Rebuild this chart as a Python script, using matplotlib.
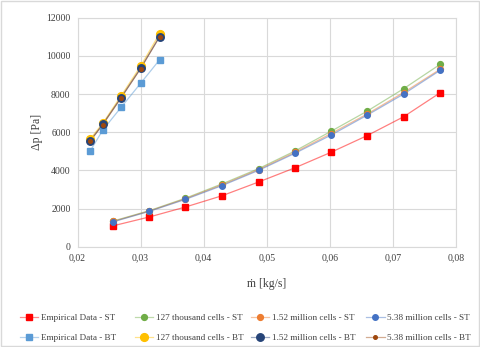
import matplotlib

matplotlib.use("Agg")

import matplotlib.pyplot as plt
from matplotlib.lines import Line2D
from matplotlib.patches import Rectangle
from matplotlib.ticker import FuncFormatter

plt.rcParams["font.family"] = ["Liberation Serif", "DejaVu Serif"]

# ---------------------------------------------------------------------------
# Data
# ---------------------------------------------------------------------------
mdot_st = [0.0257, 0.0314, 0.0371, 0.0429, 0.0487, 0.0545, 0.0602, 0.0659, 0.0717, 0.0775]
emp_st = [1100, 1560, 2080, 2670, 3390, 4140, 4950, 5820, 6810, 8070]
k127_st = [1350, 1890, 2540, 3290, 4090, 5020, 6050, 7100, 8280, 9560]
m152_st = [1330, 1870, 2510, 3240, 4040, 4950, 5930, 6950, 8080, 9300]
m538_st = [1310, 1855, 2480, 3200, 4000, 4900, 5850, 6890, 8000, 9245]

mdot_bt = [0.0220, 0.0240, 0.0269, 0.0300, 0.0330]
emp_bt = [5010, 6110, 7300, 8560, 9790]
k127_bt = [5640, 6470, 7900, 9460, 11160]
m152_bt = [5540, 6410, 7810, 9350, 11000]
m538_bt = [5540, 6400, 7800, 9330, 11000]

labels_st = ["Empirical Data - ST", "127 thousand cells - ST",
             "1.52 million cells - ST", "5.38 million cells - ST"]
labels_bt = ["Empirical Data - BT", "127 thousand cells - BT",
             "1.52 million cells - BT", "5.38 million cells - BT"]

# ---------------------------------------------------------------------------
# Styles
# ---------------------------------------------------------------------------
st_series = [
    (emp_st, "#FF0000", "s", 4.2),
    (k127_st, "#70AD47", "o", 4.2),
    (m152_st, "#ED7D31", "o", 4.2),
    (m538_st, "#4472C4", "o", 4.0),
]
bt_series = [
    (emp_bt, "#5B9BD5", "s", 4.2),
    (k127_bt, "#FFC000", "o", 5.6),
    (m152_bt, "#264478", "o", 5.4),
    (m538_bt, "#9E480E", "o", 2.6),
]

W, H = 480, 347
fig = plt.figure(figsize=(W / 100, H / 100), dpi=100)
ax = fig.add_axes([0.1615, 0.289, 0.7885, 0.66])

handles_st, handles_bt = [], []
for xs, series, handles, labels in ((mdot_st, st_series, handles_st, labels_st),
                                    (mdot_bt, bt_series, handles_bt, labels_bt)):
    for (ys, colour, marker, ms), label in zip(series, labels):
        ax.plot(xs, ys, color=colour, alpha=0.5, lw=0.9, zorder=2)
        ax.plot(xs, ys, ls="none", marker=marker, ms=ms, color=colour,
                mec=colour, zorder=3)
        # legend proxy: pale line + solid marker
        line = Line2D([0], [0], color=colour, alpha=0.45, lw=0.9)
        mark = Line2D([0], [0], ls="none", marker=marker, ms=ms,
                      color=colour, mec=colour)
        handles.append(((line, mark), label))

ax.set_xlim(0.02, 0.08)
ax.set_ylim(0, 12000)
ax.set_xticks([0.02, 0.03, 0.04, 0.05, 0.06, 0.07, 0.08])
ax.set_yticks(range(0, 12001, 2000))
ax.xaxis.set_major_formatter(FuncFormatter(lambda v, _: f"{v:.2f}".replace(".", ",")))
ax.tick_params(length=0, labelsize=7, colors="#404040", pad=5)
ax.grid(True, color="#D9D9D9", lw=0.8)
ax.set_axisbelow(True)
for side in ax.spines.values():
    side.set_color("#D9D9D9")
    side.set_linewidth(0.8)

ax.set_ylabel("Δp [Pa]", fontsize=8.5, color="#404040", labelpad=2)
ax.set_xlabel("ṁ [kg/s]", fontsize=8.5, color="#404040", labelpad=11)

# legend: Excel-style equal-width columns, one small legend per column
col_left = 19.5      # px, left edge of first handle
col_step = 115.6     # px between columns
for i, (st, bt) in enumerate(zip(handles_st, handles_bt)):
    fig.legend(handles=[st[0], bt[0]], labels=[st[1], bt[1]],
               loc="upper left",
               bbox_to_anchor=((col_left + i * col_step) / W, 1 - 314.0 / H),
               frameon=False, fontsize=6.6, borderpad=0, borderaxespad=0,
               handlelength=2.0, handletextpad=0.3, labelspacing=1.2,
               labelcolor="#404040")

fig.patches.append(Rectangle((0.002, 0.003), 0.996, 0.994, transform=fig.transFigure,
                             fill=False, edgecolor="#D9D9D9", lw=1.0))

fig.savefig("out.png", dpi=100)
plt.close(fig)
